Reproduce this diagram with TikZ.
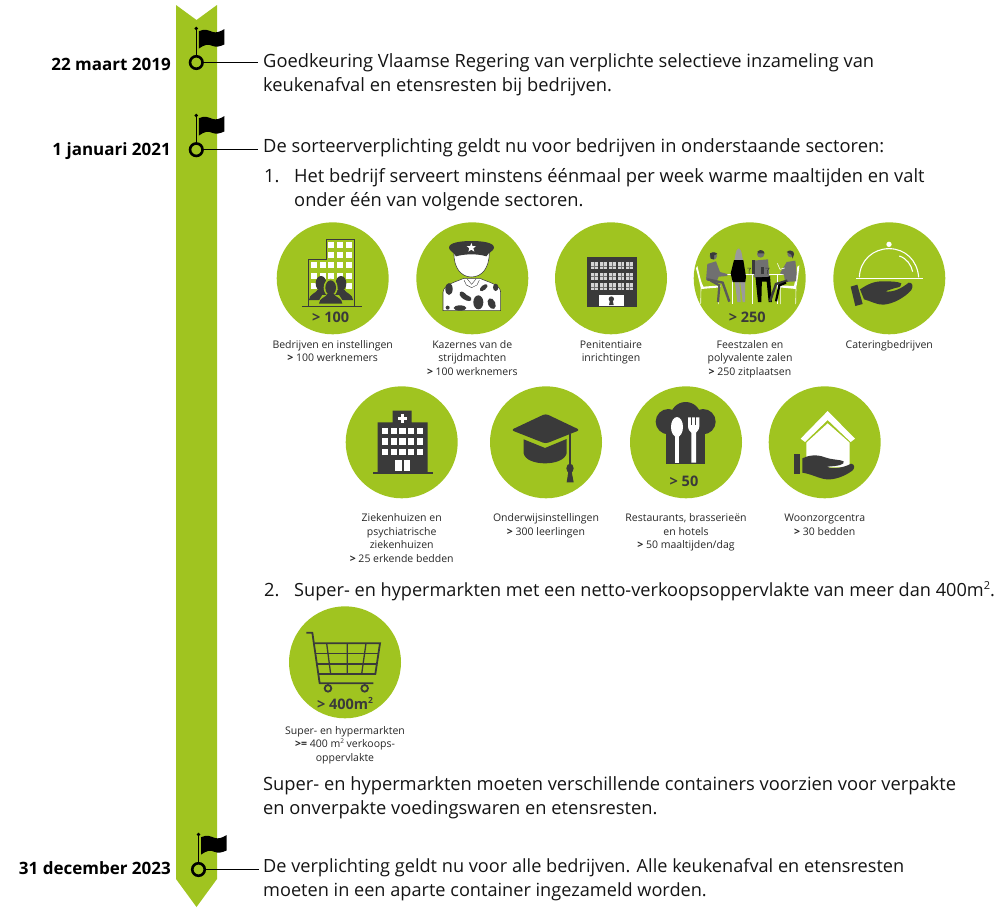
\documentclass[tikz,border=0pt]{standalone}
\usepackage{fontspec}
\setmainfont{Open Sans}
\definecolor{grn}{HTML}{A0C420}
\definecolor{ink}{HTML}{3A3A3A}
\definecolor{gryA}{HTML}{707070}
\definecolor{gryB}{HTML}{9A9A9A}
\definecolor{winG}{HTML}{D4D4D4}
\newcommand\Lc[1]{\begin{tabular}[t]{@{}c@{}}#1\end{tabular}}
\newcommand\Ll[1]{\begin{tabular}[t]{@{}l@{}}#1\end{tabular}}
\newcommand\gt{{\bfseries >}}
\newcommand\sqr[2]{\raisebox{#2}{\fontsize{#1}{#1}\selectfont 2}}
\tikzset{
  zoomat/.style={shift={(#1)},x=.33333pt,y=-.33333pt},
  disc/.style={circle,fill=grn,draw=none,minimum size=112pt,inner sep=0pt},
  body/.style={anchor=base west,inner sep=0pt,text=black!92,font=\fontsize{18.3}{24.2}\selectfont},
  bodytight/.style={body,font=\fontsize{18.15}{24.2}\selectfont},
  datelbl/.style={anchor=base east,inner sep=0pt,font=\fontsize{17}{20}\selectfont\bfseries},
  lbl/.style={anchor=base,inner sep=0pt,text=black!85,font=\fontsize{10.5}{13.5}\selectfont},
  num/.style={anchor=center,inner sep=0pt,text=ink,font=\fontsize{14.5}{16}\selectfont\bfseries},
  msdot/.style={circle,draw=black,line width=2.6pt,fill=none,minimum size=12.5pt,inner sep=0pt},
  link/.style={draw=black,line width=1.3pt},
  poleline/.style={draw=black,line width=1.5pt},
  thin/.style={draw=ink,line width=.55pt},
}
\newcommand\flag[1]{%
  \begin{scope}[shift={(#1)},x=.33333pt,y=-.33333pt]
    \fill[black] (0,0) circle (5.5);
    \fill[black] (8,8) .. controls (25,0) and (35,5) .. (48,10) .. controls (60,14) and (70,10) .. (84,2)
      -- (84,48) .. controls (70,54) and (60,57) .. (48,52) .. controls (35,46) and (25,48) .. (8,60) -- cycle;
  \end{scope}}
\newcommand\bust[1]{%
  \begin{scope}[shift={(#1)}]
    \fill[ink] (0,0) ellipse (16 and 22);
    \fill[ink] (-36,50) .. controls (-36,32) and (-14,30) .. (-9,18) -- (9,18) .. controls (14,30) and (36,32) .. (36,50) -- cycle;
  \end{scope}}
\begin{document}
\begin{tikzpicture}[x=1pt,y=-1pt]
\useasboundingbox (0,0) rectangle (1007,911);
% ribbon
\fill[grn] (176,5) -- (196.5,20) -- (217,5) -- (217,879) -- (196.5,907) -- (176,879) -- cycle;

% milestones
\node[msdot] (m1) at (196.3,62.5) {};
\node[msdot] (m2) at (196.3,149.7) {};
\node[msdot] (m3) at (198.5,869.5) {};
\coordinate (p1) at (196.3,28.5);
\coordinate (p2) at (196.3,115.5);
\coordinate (p3) at (198.5,834.5);
\draw[poleline] (m1) -- (p1);
\draw[poleline] (m2) -- (p2);
\draw[poleline] (m3) -- (p3);
\flag{196.3,28.5}
\flag{196.3,115.5}
\flag{198.5,834.5}

\node[datelbl] (d1) at (171,70) {22 maart 2019};
\node[datelbl] (d2) at (171,155) {1 januari 2021};
\node[datelbl] (d3) at (171,874) {31 december 2023};

\node[body] (t1) at (263,67.5) {\Ll{Goedkeuring Vlaamse Regering van verplichte selectieve inzameling van\\keukenafval en etensresten bij bedrijven.}};
\node[body] (t2) at (263,152.5) {De sorteerverplichting geldt nu voor bedrijven in onderstaande sectoren:};
\node[body] (t3n) at (264,182) {1.};
\node[body] (t3) at (294,182) {\Ll{Het bedrijf serveert minstens éénmaal per week warme maaltijden en valt\\onder één van volgende sectoren.}};
\node[body] (t4n) at (264,596) {2.};
\node[bodytight] (t4) at (294,596) {Super- en hypermarkten met een netto-verkoopsoppervlakte van meer dan 400m\sqr{11}{6.5pt}.};
\node[body] (t5) at (263,790) {\Ll{Super- en hypermarkten moeten verschillende containers voorzien voor verpakte\\en onverpakte voedingswaren en etensresten.}};
\node[bodytight] (t6) at (263,872.5) {\Ll{De verplichting geldt nu voor alle bedrijven. Alle keukenafval en etensresten\\moeten in een aparte container ingezameld worden.}};

\coordinate (e1) at (258,62.5);
\coordinate (e2) at (258,149.7);
\coordinate (e3) at (259,869.5);
\draw[link] (m1) -- (e1);
\draw[link] (m2) -- (e2);
\draw[link] (m3) -- (e3);

% discs
\node[disc] (c1) at (332.7,278.3) {};
\node[disc] (c2) at (472.3,278.3) {};
\node[disc] (c3) at (611,278.3) {};
\node[disc] (c4) at (749.7,278.3) {};
\node[disc] (c5) at (889.3,278.3) {};
\node[disc] (c6) at (401.7,442.3) {};
\node[disc] (c7) at (546,442.3) {};
\node[disc] (c8) at (686,442.3) {};
\node[disc] (c9) at (824.7,442.3) {};
\node[disc] (c10) at (345,662.3) {};

% labels
\node[lbl] (l1) at (332.7,348) {\Lc{Bedrijven en instellingen\\\gt{} 100 werknemers}};
\node[lbl] (l2) at (472.3,348) {\Lc{Kazernes van de\\strijdmachten\\\gt{} 100 werknemers}};
\node[lbl] (l3) at (611,348) {\Lc{Penitentiaire\\inrichtingen}};
\node[lbl] (l4) at (750,348) {\Lc{Feestzalen en\\polyvalente zalen\\\gt{} 250 zitplaatsen}};
\node[lbl] (l5) at (889.3,348) {Cateringbedrijven};
\node[lbl] (l6) at (401.7,521.7) {\Lc{Ziekenhuizen en\\psychiatrische\\ziekenhuizen\\\gt{} 25 erkende bedden}};
\node[lbl] (l7) at (546,521.7) {\Lc{Onderwijsinstellingen\\\gt{} 300 leerlingen}};
\node[lbl] (l8) at (686,521.7) {\Lc{Restaurants, brasserieën\\en hotels\\\gt{} 50 maaltijden/dag}};
\node[lbl] (l9) at (824.7,521.7) {\Lc{Woonzorgcentra\\\gt{} 30 bedden}};
\node[lbl] (l10) at (345,734) {\Lc{Super- en hypermarkten\\{\bfseries >=} 400 m\sqr{6.5}{3.8pt} verkoops-\\oppervlakte}};

% icon 1 + 2
\begin{scope}[zoomat={265,215}]
  \draw[thin] (130,272) -- (130,133) -- (185,133) -- (185,72) -- (268,72) -- (268,272);
  \foreach \x in {190,216,243} \foreach \y in {80,110} \fill[white] (\x,\y) rectangle +(18,20);
  \foreach \x in {138,165,190,216,243} \foreach \y in {142,173,205} \fill[white] (\x,\y) rectangle +(18,18);
  \bust{168,205}
  \bust{228,205}
  \fill[grn] (197,218) ellipse (21 and 27);
  \fill[grn] (155,268) -- (172,240) -- (222,240) -- (240,268) -- cycle;
  \begin{scope}[shift={(197,218)}]
    \fill[ink] (0,0) ellipse (16 and 22);
    \fill[ink] (-35,48) .. controls (-35,30) and (-14,30) .. (-9,18) -- (9,18) .. controls (14,30) and (35,30) .. (35,48) -- cycle;
  \end{scope}
  \draw[ink,line width=1.6pt] (112,275) -- (290,275);
  \node[num] (n1) at (197,308) {\gt{} 100};
  % soldier
  \filldraw[fill=white,draw=ink,line width=.55pt] (534,287) -- (534,232) .. controls (536,208) and (570,202) .. (596,190) -- (645,190) .. controls (670,202) and (706,208) .. (707,232) -- (707,287) -- cycle;
  \filldraw[fill=white,draw=ink,line width=.55pt] (567,112) .. controls (565,160) and (590,186) .. (619,186) .. controls (650,186) and (673,160) .. (673,112) -- cycle;
  \fill[ink] (552,98) .. controls (552,82) and (590,78) .. (619,78) .. controls (650,78) and (687,82) .. (687,98) .. controls (687,108) and (670,112) .. (664,124) .. controls (640,116) and (600,116) .. (573,124) .. controls (568,112) and (552,108) .. (552,98) -- cycle;
  \fill[white] (619,84) -- (622.5,93) -- (633,93) -- (625,100) -- (628,110) -- (619,104) -- (610,110) -- (613,100) -- (605,93) -- (615.5,93) -- cycle;
  \draw[ink,line width=.4pt] (597,195) -- (604,210) -- (620,218) -- (636,210) -- (643,195);
  \draw[ink,line width=.4pt] (607,192) -- (620,208) -- (633,192);
  \fill[ink] (552,222) ellipse (11 and 18);
  \fill[ink] (585,232) .. controls (590,225) and (600,235) .. (605,240) .. controls (612,244) and (622,246) .. (618,256) .. controls (612,262) and (596,254) .. (590,248) .. controls (584,242) and (582,238) .. (585,232) -- cycle;
  \fill[ink] (640,262) ellipse (15 and 21);
  \fill[ink,rotate around={40:(656,218)}] (656,218) ellipse (14 and 7);
  \fill[ink] (692,217) ellipse (8 and 11);
  \fill[ink,rotate around={25:(680,266)}] (680,266) ellipse (11 and 17);
  \fill[ink] (585,279) ellipse (19 and 8);
  \fill[ink] (548,278) ellipse (6 and 6);
\end{scope}

% icon 3 + 4-number
\begin{scope}[zoomat={545,215}]
  \fill[ink] (125,126) rectangle (275,277);
  \foreach \x in {138,165,192,218,243} \foreach \y in {142,174,205} {
    \fill[winG] (\x,\y) rectangle +(20,20);
    \draw[gryA,line width=.15pt] (\x+10,\y) -- +(0,20) (\x,\y+10) -- +(20,0);
  }
  \fill[white] (163,240) rectangle (236,272);
  \fill[ink] (199,252) circle (8);
  \fill[ink] (195,255) -- (203,255) -- (206,270) -- (192,270) -- cycle;
  \node[num] (n4) at (607,308) {\gt{} 250};
\end{scope}

% icon 4 people
\begin{scope}[zoomat={690,240}]
  % chairs
  \fill[white] (22,78) .. controls (28,100) and (32,125) .. (40,140) -- (92,136) -- (92,142) -- (33,147) .. controls (28,125) and (22,100) .. (18,85) -- cycle;
  \draw[white,line width=.6pt] (33,145) -- (32,192) (85,140) -- (85,192);
  \fill[white] (328,76) .. controls (326,100) and (322,125) .. (318,147) -- (268,142) -- (268,136) -- (312,138) .. controls (316,120) and (320,100) .. (322,80) -- cycle;
  \draw[white,line width=.6pt] (318,145) -- (317,192) (272,140) -- (272,192);
  % table
  \draw[white,line width=.7pt] (72,102) -- (292,102);
  \draw[white,line width=.5pt] (128,102) -- (128,192) (186,102) -- (186,192) (262,102) -- (262,192);
  % person 1
  \fill[gryA] (52,72) -- (78,64) -- (90,96) -- (112,102) -- (112,108) -- (86,110) -- (80,124) -- (48,120) -- cycle;
  \draw[gryA!80!black,line width=2.4pt] (52,118) -- (98,128) -- (118,185);
  \draw[gryA!80!black,line width=2.2pt] (62,122) -- (88,136) -- (84,186);
  \fill[gryA] (70,48) circle (11);
  \fill[ink] (60,40) .. controls (70,34) and (80,38) .. (82,42) -- (72,46) -- (72,58) -- (62,56) -- cycle;
  % person 2
  \fill[gryB] (134,122) -- (148,122) -- (152,186) -- (142,186) -- cycle;
  \fill[gryB] (150,122) -- (165,122) -- (165,186) -- (158,186) -- cycle;
  \fill[gryB] (146,25) .. controls (135,28) and (136,55) .. (133,62) -- (160,62) .. controls (155,55) and (158,28) .. (146,25) -- cycle;
  \fill[black] (132,60) -- (160,60) -- (168,110) -- (166,126) -- (128,126) -- (122,100) -- cycle;
  % person 3
  \fill[black] (196,108) -- (216,108) -- (214,186) -- (204,186) -- cycle;
  \fill[black] (216,108) -- (240,108) -- (246,186) -- (236,186) -- (230,125) -- (216,125) -- cycle;
  \fill[gryA] (190,62) -- (234,58) -- (238,110) -- (192,112) -- cycle;
  \fill[gryA] (212,42) circle (11);
  \fill[ink] (203,34) .. controls (212,26) and (222,32) .. (224,40) -- (204,40) -- cycle;
  \fill[ink] (212,80) rectangle (222,102);
  \fill[ink] (185,60) rectangle (194,102);
  \draw[ink,line width=.5pt] (172,84) -- (182,84) -- (177,92) -- (177,102) (226,84) -- (238,84) -- (232,92) -- (232,102);
  % person 4
  \fill[gryA] (290,66) -- (316,62) -- (320,100) -- (318,124) -- (285,126) -- (282,104) -- (270,100) -- cycle;
  \draw[ink,line width=2.4pt] (292,122) -- (258,132) -- (240,184);
  \draw[black,line width=2.2pt] (288,128) -- (268,136) -- (258,184);
  \fill[gryA] (302,42) circle (10);
  \fill[ink] (290,36) .. controls (298,28) and (312,32) .. (312,42) -- (308,56) -- (304,44) -- cycle;
  \draw[white,line width=.6pt] (262,70) -- (270,88) -- (284,84);
\end{scope}

% icon 5 catering
\begin{scope}[zoomat={830,220}]
  \draw[white,line width=1.1pt] (88,172) .. controls (90,120) and (130,86) .. (177,86) .. controls (225,86) and (262,120) .. (266,172);
  \draw[white,line width=1.1pt] (208,108) .. controls (230,115) and (244,135) .. (248,155);
  \fill[white] (177,73) circle (8);
  \draw[white,line width=1.5pt] (78,176) -- (278,176);
  \fill[ink] (62,200) -- (82,194) -- (98,252) -- (76,258) -- cycle;
  \fill[ink] (90,208) .. controls (110,195) and (130,183) .. (160,184) .. controls (185,184) and (205,185) .. (214,190) .. controls (216,198) and (210,202) .. (195,204) -- (165,214) .. controls (190,218) and (215,205) .. (236,188) .. controls (248,186) and (250,200) .. (244,210) .. controls (225,232) and (190,252) .. (160,254) .. controls (140,255) and (120,242) .. (102,238) -- cycle;
\end{scope}

% row 2: hospital, mortar board
\begin{scope}[zoomat={335,380}]
  \fill[ink] (173,92) -- (230,92) -- (230,127) -- (278,127) -- (278,277) -- (128,277) -- (128,127) -- (173,127) -- cycle;
  \fill[ink] (115,275) rectangle (293,281);
  \fill[white] (197,103) rectangle (206,128);
  \fill[white] (188,111) rectangle (215,120);
  \foreach \x in {141,167,193,219,245} \foreach \y in {143,175,206} \fill[white] (\x,\y) rectangle +(19,19);
  \fill[white] (180,240) rectangle (200,272);
  \fill[white] (206,240) rectangle (226,272);
  % mortar board
  \fill[ink,rounded corners=3pt] (632,101) -- (735,150) -- (632,191) -- (528,150) -- cycle;
  \fill[ink] (566,178) -- (630,204) -- (695,177) -- (695,220) .. controls (690,240) and (660,250) .. (630,250) .. controls (600,250) and (570,240) .. (566,220) -- cycle;
  \draw[ink,line width=1.3pt] (705,162) -- (705,255);
  \fill[ink] (705,265) ellipse (11 and 14);
  \fill[ink] (700,275) -- (710,275) -- (716,307) -- (695,307) -- cycle;
\end{scope}

% row 2: chef hat, house
\begin{scope}[zoomat={615,380}]
  \fill[ink] (160,125) circle (38);
  \fill[ink] (212,112) circle (46);
  \fill[ink] (264,125) circle (38);
  \fill[ink] (153,125) rectangle (270,253);
  \fill[white] (186,141) ellipse (18 and 30);
  \fill[white] (180,165) rectangle (193,248);
  \fill[white] (219,112) -- (253,112) -- (253,138) .. controls (253,150) and (245,155) .. (243,158) -- (243,248) -- (229,248) -- (229,158) .. controls (226,155) and (219,150) .. (219,138) -- cycle;
  \fill[ink] (228,110) rectangle (231,134);
  \fill[ink] (241,110) rectangle (244,134);
  \node[num] (n8) at (207,305) {\gt{} 50};
  % house
  \fill[white] (557,176) -- (638,93) -- (720,176) -- (707,186) -- (638,120) -- (570,186) -- cycle;
  \fill[white] (574,188) -- (638,130) -- (704,188) -- (704,262) -- (574,262) -- cycle;
  \fill[ink] (537,222) rectangle (556,283);
  \fill[ink] (562,235) .. controls (580,226) and (605,222) .. (630,232) .. controls (650,240) and (675,238) .. (686,244) .. controls (690,254) and (670,258) .. (636,260) .. controls (650,270) and (690,262) .. (708,251) .. controls (720,252) and (720,265) .. (712,272) .. controls (690,288) and (660,300) .. (635,298) .. controls (612,296) and (590,282) .. (562,278) -- cycle;
\end{scope}

% cart
\begin{scope}[zoomat={260,600}]
  \draw[ink,line width=1.8pt,line join=round] (139,98) -- (157,98) -- (179,250) -- (340,250);
  \draw[ink,line width=1.8pt] (163,130) -- (360,130) -- (346,222) -- (175,222);
  \draw[ink,line width=1.3pt] (167,160) -- (355,160) (171,192) -- (350,192);
  \draw[ink,line width=1.3pt] (200,130) -- (212,222) (262,130) -- (262,222) (318,130) -- (305,222);
  \draw[ink,line width=1.8pt] (204,265) circle (10) (314,265) circle (10);
  \node[num] (n10) at (255,310) {\gt{} 400m\sqr{8.5}{6pt}};
\end{scope}
\end{tikzpicture}
\end{document}
